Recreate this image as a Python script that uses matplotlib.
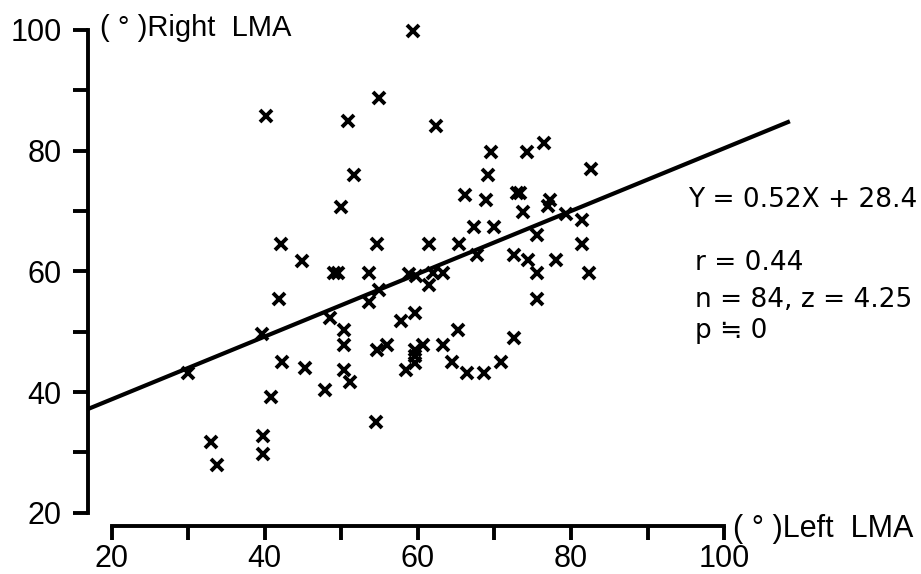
import matplotlib
matplotlib.use("Agg")
import matplotlib.pyplot as plt
import numpy as np

# left / right LMA angles (degrees)
left_lma = [59.4, 40.2, 54.9, 50.9, 62.4, 51.7, 49.9, 69.5, 74.3, 76.5,
            82.6, 69.2, 66.2, 68.9, 72.9, 73.3, 73.7, 77.3, 77.0, 79.3,
            81.4, 67.3, 70.0, 75.5, 81.5, 61.4, 65.4, 42.1, 54.7, 67.7,
            72.6, 74.4, 78.0, 75.5, 82.3, 44.8, 49.0, 49.5, 53.6, 58.9,
            59.8, 62.0, 63.3, 61.5, 54.9, 53.6, 41.8, 75.5, 48.5, 59.6,
            57.8, 39.6, 50.3, 65.2, 72.6, 50.3, 55.9, 54.7, 59.6, 60.7,
            63.3, 59.6, 59.6, 58.5, 64.5, 66.4, 68.6, 70.8, 29.9, 42.3,
            45.3, 50.3, 51.1, 47.8, 40.8, 54.5, 39.7, 39.7, 33.0, 33.8]
right_lma = [99.8, 85.8, 88.8, 85.0, 84.1, 76.0, 70.7, 79.8, 79.8, 81.3,
             76.9, 76.0, 72.7, 71.8, 73.0, 73.0, 69.9, 71.8, 70.8, 69.5,
             68.5, 67.4, 67.4, 66.0, 64.6, 64.5, 64.5, 64.5, 64.5, 62.7,
             62.7, 61.8, 61.8, 59.8, 59.8, 61.7, 59.8, 59.8, 59.8, 59.6,
             59.3, 59.8, 59.8, 57.8, 56.9, 55.0, 55.4, 55.5, 52.2, 53.1,
             51.7, 49.7, 50.3, 50.3, 48.9, 47.8, 47.8, 46.9, 47.0, 47.8,
             47.8, 45.9, 44.8, 43.6, 45.0, 43.1, 43.1, 45.0, 43.1, 44.9,
             44.0, 43.6, 41.7, 40.3, 39.2, 35.0, 32.7, 29.7, 31.7, 27.9]

slope = 0.52
intercept = 28.4
eq_text = "Y = 0.52X + 28.4"
stat_lines = ["r = 0.44", "n = 84, z = 4.25", "p \u2252 0"]

x_ticks = [20, 30, 40, 50, 60, 70, 80, 90, 100]
x_labels = ["20", "", "40", "", "60", "", "80", "", "100"]
y_ticks = [20, 30, 40, 50, 60, 70, 80, 90, 100]
y_labels = ["20", "", "40", "", "60", "", "80", "", "100"]

plt.rcParams["font.family"] = ["Liberation Sans", "DejaVu Sans"]

fig = plt.figure(figsize=(9.21, 5.74), dpi=100)
ax = fig.add_axes([88 / 921, 48.3 / 574, 833 / 921, 525.7 / 574])
ax.set_xlim(16.9, 125.73)
ax.set_ylim(17.85, 104.97)

ax.plot(left_lma, right_lma, linestyle="none", marker="x", color="black",
        markersize=8.5, markeredgewidth=2.8)

xl = np.array([16.9, 108.6])
ax.plot(xl, slope * xl + intercept, color="black", linewidth=3.0,
        solid_capstyle="butt")

for s in ["top", "right"]:
    ax.spines[s].set_visible(False)
ax.spines["left"].set_bounds(20, 100)
ax.spines["bottom"].set_bounds(20, 100)
for s in ["left", "bottom"]:
    ax.spines[s].set_linewidth(2.8)
    ax.spines[s].set_capstyle("projecting")

ax.set_xticks(x_ticks)
ax.set_xticklabels(x_labels)
ax.set_yticks(y_ticks)
ax.set_yticklabels(y_labels)
ax.tick_params(axis="y", direction="out", length=11, width=2.8, pad=8,
               labelsize=22)
ax.tick_params(axis="x", direction="out", length=10, width=2.8, pad=3,
               labelsize=22)

ax.text(18.5, 99.0, "( \u00b0 )Right  LMA", fontsize=21, va="baseline",
        ha="left")
ax.text(101.2, 16.0, "( \u00b0 )Left  LMA", fontsize=22, va="baseline",
        ha="left", clip_on=False)

ax.text(95.3, 70.7, eq_text, fontsize=19, family="DejaVu Sans",
        va="baseline", ha="left")
for line, yb in zip(stat_lines, [60.2, 54.1, 48.9]):
    ax.text(96.2, yb, line, fontsize=19, family="DejaVu Sans",
            va="baseline", ha="left")

fig.savefig("out.png", dpi=100)
